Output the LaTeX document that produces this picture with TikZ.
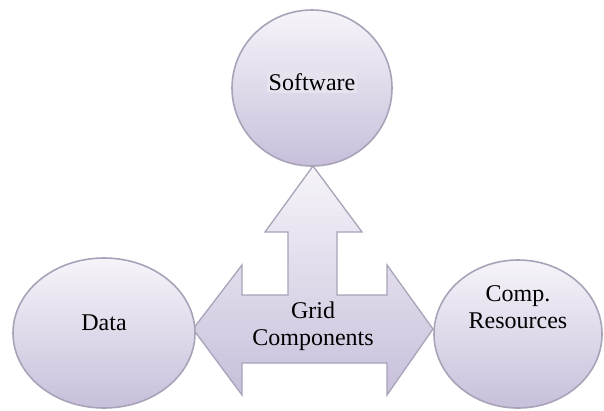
\documentclass[tikz,border=0pt]{standalone}
\usepackage{fontspec}
\setmainfont{Liberation Serif}
\usetikzlibrary{shapes.geometric}
\definecolor{lavtop}{HTML}{F6F4F9}
\definecolor{lavbot}{HTML}{C8BFDB}
\definecolor{lavedge}{HTML}{A8A3B8}
\definecolor{labbg}{HTML}{E6E2EE}
\tikzset{
  bubble/.style={ellipse, draw=lavedge, line width=1.6pt, top color=lavtop, bottom color=lavbot, inner sep=0pt},
  lbl/.style={font=\fontsize{24}{27}\selectfont, align=center, text=black},
  arrowshape/.style={draw=lavedge, line width=1.3pt, top color=lavtop, bottom color=lavbot, line join=miter}
}
\begin{document}
\begin{tikzpicture}[x=1pt,y=-1pt]
\useasboundingbox (0,0) rectangle (604,410);
\fill[white] (0,0) rectangle (604,410);
% block arrow
\coordinate (lt) at (193,329);
\coordinate (rt) at (433,329);
\coordinate (ut) at (313,166);
\draw[arrowshape] (lt) -- (242,265) -- (242,295) -- (288,295) -- (288,232) -- (265,232) -- (ut)
  -- (362,232) -- (337,232) -- (337,295) -- (387,295) -- (387,265) -- (rt)
  -- (387,395) -- (387,363) -- (242,363) -- (242,395) -- cycle;
% bubbles
\node[bubble, minimum width=160, minimum height=156] (sw) at (312,88) {};
\node[bubble, minimum width=182, minimum height=150] (data) at (104,333) {};
\node[bubble, minimum width=168, minimum height=148] (comp) at (518,334) {};
% labels
\node[lbl, fill=labbg, inner sep=2pt] (swl) at (312,82) {Software};
\node[lbl] (datal) at (104,323) {Data};
\node[lbl] (compl) at (518,307) {Comp.\\Resources};
\node[lbl] (gridl) at (313,326) {Grid\\Components};
\end{tikzpicture}
\end{document}
